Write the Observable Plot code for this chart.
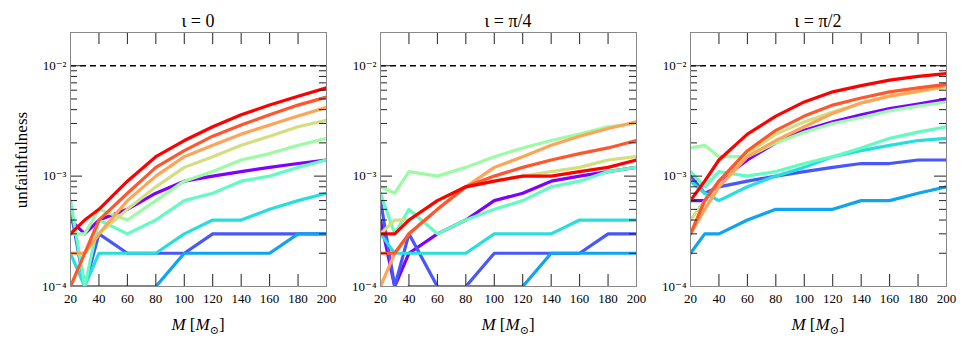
<!DOCTYPE html>
<html><head><meta charset="utf-8">
<script src="https://cdn.jsdelivr.net/npm/d3@7"></script>
<script src="https://cdn.jsdelivr.net/npm/@observablehq/plot@0.6"></script>
<style>
body{margin:0;background:#fff;}
#chart{position:relative;width:969px;height:347px;font-family:"Liberation Serif","DejaVu Serif",serif;color:#000;}
.panel{position:absolute;top:0;}
.title{position:absolute;top:11px;font-size:18px;text-align:center;width:256px;line-height:20px;}
.xlab{position:absolute;top:315px;font-size:17px;text-align:center;width:256px;line-height:20px;}
.xlab sub{font-size:11px;}
.ylab{position:absolute;left:22px;top:160px;font-size:17px;transform:translate(-50%,-50%) rotate(-90deg);white-space:nowrap;}
</style></head><body><div id="chart"></div>
<script>
const masses = [20, 30, 40, 60, 80, 100, 120, 140, 160, 180, 200];
const xTicks = [20, 40, 60, 80, 100, 120, 140, 160, 180, 200];
const yMajor = [1e-4, 1e-3, 1e-2];
const yMinor = [2e-4,3e-4,4e-4,5e-4,6e-4,7e-4,8e-4,9e-4,2e-3,3e-3,4e-3,5e-3,6e-3,7e-3,8e-3,9e-3];
const threshold = [1e-2];
const colors = ["#8000ff","#4757fb","#0ea4f0","#2adddd","#64fbc3","#9cfba4","#d4dd80","#ffa457","#ff572c","#ff0000"];
const titles = ["ι = 0", "ι = π/4", "ι = π/2"];

// rows: series 0..9 (purple ... red), columns: masses
const iota0 = [
  [4e-4,3e-4,4e-4,5e-4,7e-4,9e-4,1e-3,1.1e-3,1.2e-3,1.3e-3,1.4e-3],
  [5e-4,1e-4,3e-4,2e-4,2e-4,2e-4,3e-4,3e-4,3e-4,3e-4,3e-4],
  [1e-4,1e-4,1e-4,1e-4,1e-4,2e-4,2e-4,2e-4,2e-4,3e-4,3e-4],
  [2e-4,1e-4,2e-4,2e-4,2e-4,3e-4,4e-4,4e-4,5e-4,6e-4,7e-4],
  [6e-4,1e-4,4e-4,3e-4,4e-4,6e-4,7e-4,9e-4,1e-3,1.2e-3,1.4e-3],
  [3e-4,3e-4,5e-4,4e-4,6e-4,9e-4,1.1e-3,1.4e-3,1.6e-3,1.9e-3,2.2e-3],
  [2e-4,2e-4,3e-4,5e-4,8e-4,1.2e-3,1.5e-3,1.9e-3,2.3e-3,2.8e-3,3.2e-3],
  [2e-4,2e-4,3e-4,6e-4,1e-3,1.5e-3,1.9e-3,2.4e-3,2.9e-3,3.5e-3,4.2e-3],
  [1e-4,2e-4,4e-4,7e-4,1.2e-3,1.7e-3,2.3e-3,2.9e-3,3.6e-3,4.4e-3,5.2e-3],
  [3e-4,4e-4,5e-4,9e-4,1.5e-3,2.1e-3,2.8e-3,3.6e-3,4.4e-3,5.3e-3,6.3e-3]
];
const iotaPi4 = [
  [4e-4,1e-4,2e-4,3e-4,4e-4,6e-4,7e-4,9e-4,1e-3,1.1e-3,1.2e-3],
  [6e-4,1e-4,3e-4,1e-4,1e-4,2e-4,2e-4,2e-4,2e-4,3e-4,3e-4],
  [null,null,1e-4,1e-4,1e-4,1e-4,1e-4,2e-4,2e-4,2e-4,2e-4],
  [3e-4,2e-4,2e-4,2e-4,2e-4,3e-4,3e-4,3e-4,4e-4,4e-4,4e-4],
  [7e-4,3e-4,5e-4,3e-4,4e-4,5e-4,6e-4,8e-4,9e-4,1.1e-3,1.2e-3],
  [8e-4,7e-4,1.1e-3,1e-3,1.2e-3,1.5e-3,1.8e-3,2.1e-3,2.4e-3,2.8e-3,3e-3],
  [3e-4,4e-4,4e-4,6e-4,8e-4,9e-4,1e-3,1.1e-3,1.2e-3,1.4e-3,1.5e-3],
  [1e-4,2e-4,3e-4,5e-4,8e-4,1.2e-3,1.5e-3,1.9e-3,2.3e-3,2.7e-3,3.1e-3],
  [2e-4,2e-4,3e-4,5e-4,8e-4,1e-3,1.2e-3,1.4e-3,1.6e-3,1.8e-3,2.1e-3],
  [3e-4,3e-4,4e-4,6e-4,8e-4,9e-4,1e-3,1e-3,1.1e-3,1.2e-3,1.4e-3]
];
const iotaPi2 = [
  [6e-4,6e-4,9e-4,1.4e-3,2e-3,2.6e-3,3.1e-3,3.6e-3,4.1e-3,4.5e-3,5e-3],
  [1e-3,7e-4,8e-4,9e-4,1e-3,1.1e-3,1.2e-3,1.3e-3,1.3e-3,1.4e-3,1.4e-3],
  [2e-4,3e-4,3e-4,4e-4,5e-4,5e-4,5e-4,6e-4,6e-4,7e-4,8e-4],
  [9e-4,7e-4,6e-4,8e-4,1e-3,1.2e-3,1.5e-3,1.7e-3,1.9e-3,2.1e-3,2.2e-3],
  [1.1e-3,8e-4,1.1e-3,1e-3,1.1e-3,1.3e-3,1.5e-3,1.8e-3,2.2e-3,2.5e-3,2.8e-3],
  [1.8e-3,1.9e-3,1.5e-3,1.5e-3,2e-3,2.5e-3,3e-3,3.4e-3,3.9e-3,4.3e-3,4.7e-3],
  [4e-4,6e-4,9e-4,1.6e-3,2.4e-3,3.1e-3,3.8e-3,4.6e-3,5.3e-3,5.8e-3,6.4e-3],
  [3e-4,5e-4,8e-4,1.5e-3,2.1e-3,2.8e-3,3.7e-3,4.6e-3,5.3e-3,5.9e-3,6.6e-3],
  [3e-4,6e-4,9e-4,1.7e-3,2.6e-3,3.5e-3,4.4e-3,5.1e-3,5.8e-3,6.3e-3,6.8e-3],
  [6e-4,9e-4,1.4e-3,2.4e-3,3.5e-3,4.7e-3,5.8e-3,6.6e-3,7.4e-3,8e-3,8.5e-3]
];
const panels = [iota0, iotaPi4, iotaPi2];
const plotLefts = [70, 380, 690];

const supMap = {"-":"⁻","0":"⁰","1":"¹","2":"²","3":"³","4":"⁴","5":"⁵","6":"⁶","7":"⁷","8":"⁸","9":"⁹"};
const fmtPow = d => "10" + String(Math.round(Math.log10(d))).split("").map(c => supMap[c]).join("");

const W = 256, H = 254, mL = 60, mR = 12, mT = 32, mB = 61;

function makePanel(series) {
  const data = [];
  series.forEach((vals, s) => vals.forEach((v, j) => data.push({M: masses[j], u: v == null ? NaN : v, s})));
  return Plot.plot({
    width: mL + W + mR, height: mT + H + mB,
    marginLeft: mL, marginRight: mR, marginTop: mT, marginBottom: mB,
    x: {domain: [20, 200], label: null},
    y: {type: "log", domain: [1e-4, 2e-2], label: null},
    style: {fontFamily: "'Liberation Serif','DejaVu Serif',serif", fontSize: "13px", background: "transparent", color: "#000", overflow: "visible"},
    marks: [
      Plot.ruleY(threshold, {y: d => d, stroke: "#000", strokeDasharray: "6,4", strokeWidth: 1.3}),
      Plot.line(data, {x: "M", y: "u", z: "s", stroke: d => colors[d.s], strokeWidth: 3.2, clip: true}),
      Plot.tickX(xTicks, {x: d => d, insetTop: H - 12, stroke: "#222"}),
      Plot.tickX(xTicks, {x: d => d, insetBottom: H - 12, stroke: "#222"}),
      Plot.tickY(yMajor, {y: d => d, insetRight: W - 12, stroke: "#222"}),
      Plot.tickY(yMajor, {y: d => d, insetLeft: W - 12, stroke: "#222"}),
      Plot.tickY(yMinor, {y: d => d, insetRight: W - 7, stroke: "#222"}),
      Plot.tickY(yMinor, {y: d => d, insetLeft: W - 7, stroke: "#222"}),
      Plot.axisX(xTicks, {tickSize: 0, tickPadding: 7, label: null, fontSize: 13}),
      Plot.axisY(yMajor, {tickSize: 0, tickPadding: 4, label: null, tickFormat: fmtPow, fontSize: 13}),
      Plot.frame({stroke: "#888"})
    ]
  });
}

const chart = document.getElementById("chart");
panels.forEach((series, i) => {
  const svg = makePanel(series);
  svg.classList.add("panel");
  svg.style.left = (plotLefts[i] - mL) + "px";
  chart.appendChild(svg);
  const t = document.createElement("div");
  t.className = "title";
  t.style.left = plotLefts[i] + "px";
  t.textContent = titles[i];
  chart.appendChild(t);
  const xl = document.createElement("div");
  xl.className = "xlab";
  xl.style.left = plotLefts[i] + "px";
  xl.innerHTML = "<i>M</i> [<i>M</i><sub>⊙</sub>]";
  chart.appendChild(xl);
});
const yl = document.createElement("div");
yl.className = "ylab";
yl.textContent = "unfaithfulness";
chart.appendChild(yl);
</script>
</body></html>
